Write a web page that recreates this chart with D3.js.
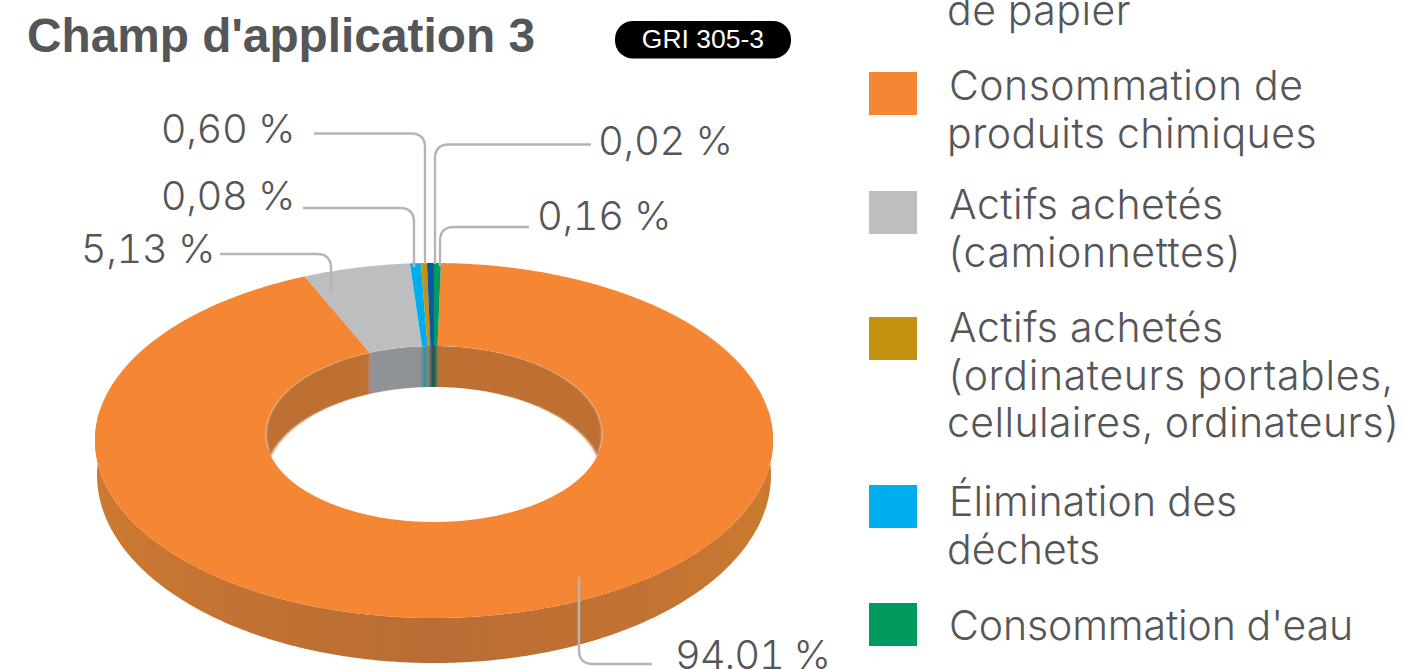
<!DOCTYPE html>
<html><head><meta charset="utf-8">
<script src="https://cdn.jsdelivr.net/npm/d3@7/dist/d3.min.js"></script>
<style>html,body{margin:0;padding:0;background:#fff;overflow:hidden}svg{display:block}
text{font-family:"Liberation Sans",Arial,sans-serif}
.light{font-family:Inter,"Liberation Sans",sans-serif;font-weight:300;font-variant-numeric:tabular-nums;font-feature-settings:"tnum" 1}</style></head>
<body><svg id="c" width="1404" height="669"></svg>
<script>
// ---- data
const categories = ["Consommation de produits chimiques","Actifs achetés (camionnettes)","Élimination des déchets","Actifs achetés (ordinateurs portables, cellulaires, ordinateurs)","Consommation de papier","Consommation d'eau"];
// share of the ring as drawn (small slices are drawn wider than their printed value)
const drawnShares = [93.45, 5.09, 0.52, 0.28, 0.33, 0.33];
const sliceColors = ["#F58634","#BCBEC0","#00AEEF","#C29210","#0B57A4","#009A5E"];
const wallColors  = ["#BD6F33","#8F9296","#3A8A9C","#7F7A50","#1C4A50","#1E6B4E"];
const printedLabels = ["94.01 %","5,13 %","0,08 %","0,60 %","0,02 %","0,16 %"];
const legendLines = [["de papier"],["Consommation de","produits chimiques"],["Actifs achetés","(camionnettes)"],["Actifs achetés","(ordinateurs portables,","cellulaires, ordinateurs)"],["Élimination des","déchets"],["Consommation d'eau"]];
const legendColors = [null,"#F58634","#BCBEC0","#C29210","#00AEEF","#009A5E"];
const titleText = "Champ d'application 3";
const badgeText = "GRI 305-3";

// ---- geometry
const svg = d3.select("#c");
const ink = "#555658", leader = "#B4B5B6";
const deg = Math.PI/180;
const cx = 434;
const topOuter = {rx:339, c:440.5, ry:177.5}, topInner = {rx:168.5, c:434, ry:88};
const lowOuter = {rx:337, c:475, ry:188},     lowInner = {rx:168.5, c:479, ry:92};
const pt = (e,a)=>[cx+e.rx*Math.sin(a), e.c-e.ry*Math.cos(a)];
const line = d3.line();
const sample = (a,b)=>{const n=Math.max(2,Math.ceil(Math.abs(b-a)/(0.5*deg)));return d3.range(n+1).map(i=>a+(b-a)*i/n);};
const band = (e1,e2,a,b)=>{const s=sample(a,b);return line([...s.map(t=>pt(e1,t)),...s.slice().reverse().map(t=>pt(e2,t))])+"Z";};

const pie = d3.pie().sort(null).startAngle(1.18*deg).endAngle(361.18*deg);
const arcs = pie(drawnShares);

const defs = svg.append("defs");
const grad = defs.append("linearGradient").attr("id","wall").attr("gradientUnits","userSpaceOnUse")
  .attr("x1",95).attr("x2",773).attr("y1",0).attr("y2",0);
[[0,"#CC7A30"],[0.2,"#C27233"],[0.5,"#B96D35"],[0.8,"#C27233"],[1,"#CC7A30"]].forEach(s=>grad.append("stop").attr("offset",s[0]).attr("stop-color",s[1]));
defs.append("filter").attr("id","soft").attr("x","-5%").attr("width","110%").append("feGaussianBlur").attr("stdDeviation","1.4 0");

// outer wall (front half only)
svg.append("g").selectAll("path").data(arcs).join("path")
  .filter(d=>d.endAngle>80*deg && d.startAngle<280*deg)
  .attr("d",d=>band(topOuter,lowOuter,Math.max(d.startAngle,80*deg),Math.min(d.endAngle,280*deg)))
  .attr("fill","url(#wall)");

// top face
svg.append("g").selectAll("path").data(arcs).join("path")
  .attr("d",d=>band(topOuter,topInner,d.startAngle,d.endAngle))
  .attr("fill",d=>sliceColors[d.index]);

// inner wall, clipped to the hole
svg.append("clipPath").attr("id","hole").append("path")
  .attr("d",line(d3.range(0,361,2).map(t=>pt(topInner,t*deg)))+"Z");
const windows=[[-100*deg,100*deg],[260*deg,460*deg]];
const wallParts=[];
arcs.forEach(d=>windows.forEach(w=>{const a=Math.max(d.startAngle,w[0]),b=Math.min(d.endAngle,w[1]);if(b>a)wallParts.push({i:d.index,a,b});}));
svg.append("g").attr("clip-path","url(#hole)").append("g").attr("filter","url(#soft)")
  .selectAll("path").data(wallParts).join("path")
  .attr("d",d=>band(topInner,lowInner,d.a,d.b)).attr("fill",d=>wallColors[d.i]);

// leaders
const elbow=(hx,hy,vx,vy,r=14)=>{const sx=Math.sign(vx-hx),sy=Math.sign(vy-hy);const p=d3.path();p.moveTo(hx,hy);p.lineTo(vx-sx*r,hy);p.quadraticCurveTo(vx,hy,vx,hy+sy*r);p.lineTo(vx,vy);return p.toString();};
const leaders=[
 {t:0,h:[652,664],v:[579,577],lx:675,ly:669,anchor:"start",ls:-1.1},
 {t:1,h:[220,254],v:[331,293],lx:215,ly:263,anchor:"end",ls:-0.4},
 {t:2,h:[303,208],v:[414,267],lx:295,ly:210,anchor:"end",ls:-0.4},
 {t:3,h:[314,133.5],v:[425,264],lx:295,ly:143,anchor:"end",ls:-0.4},
 {t:4,h:[591,144.5],v:[435,264],lx:598,ly:155,anchor:"start",ls:-0.3},
 {t:5,h:[529,227],v:[440,266],lx:537,ly:230,anchor:"start",ls:-0.4}];
svg.append("g").selectAll("path").data(leaders).join("path")
  .attr("d",d=>elbow(d.h[0],d.h[1],d.v[0],d.v[1]))
  .attr("fill","none").attr("stroke",leader).attr("stroke-width",2.4);
svg.append("g").selectAll("text").data(leaders).join("text").attr("class","light")
  .attr("x",d=>d.lx).attr("y",d=>d.ly).attr("text-anchor",d=>d.anchor)
  .attr("font-size",40).attr("letter-spacing",d=>d.ls).attr("fill",ink).text(d=>printedLabels[d.t]);

// title + badge
svg.append("text").attr("x",27).attr("y",52).attr("font-size",47.8).attr("font-weight",700).attr("fill",ink).text(titleText);
svg.append("rect").attr("x",615).attr("y",21).attr("width",176).attr("height",37.5).attr("rx",18).attr("fill","#000");
svg.append("text").attr("x",703).attr("y",48).attr("text-anchor","middle").attr("font-size",26.5).attr("fill","#fff").text(badgeText);

// legend
const legendY=[25,100,219,342,516,640];
const swatchY=[null,72,191,317,485,603];
const spread=[[4],[7,9],[7,8],[7,15,10],[2,1],[-2]]; // width correction of each line, px
const lg=svg.append("g").selectAll("g").data(legendLines).join("g");
lg.filter((d,i)=>legendColors[i]).append("rect").attr("x",869).attr("width",48).attr("height",43)
  .attr("y",d=>swatchY[legendLines.indexOf(d)]).attr("fill",d=>legendColors[legendLines.indexOf(d)]);
lg.each(function(lines,i){
  d3.select(this).selectAll("text").data(lines).join("text").attr("class","light")
    .attr("x",(d,j)=>j===0&&i>0?949:947).attr("y",(d,j)=>legendY[i]+j*47.7)
    .attr("font-size",41).attr("fill",ink)
    .attr("letter-spacing",(d,j)=>(spread[i][j]/d.length).toFixed(3)).text(d=>d);
});
</script></body></html>
